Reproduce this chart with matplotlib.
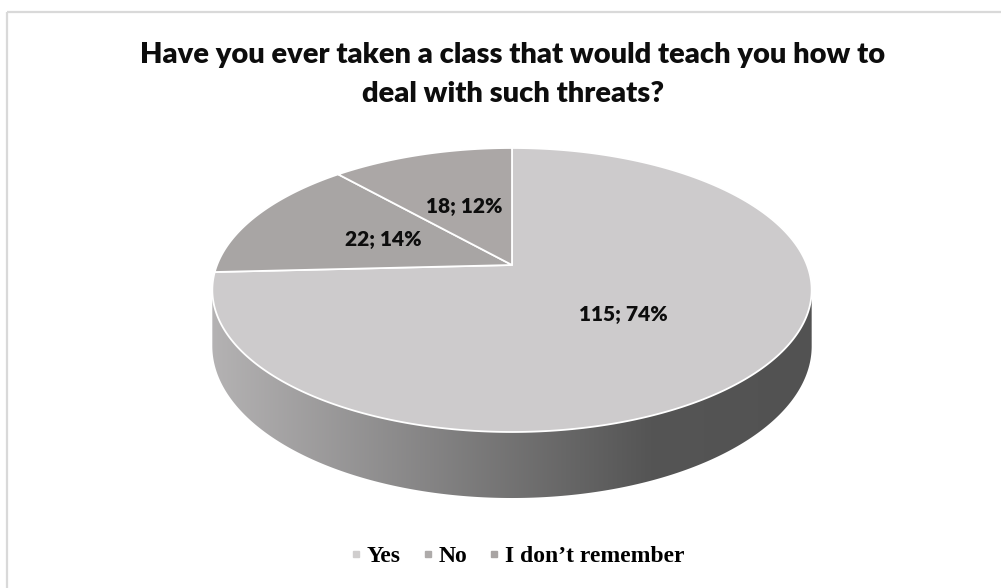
import numpy as np
import matplotlib
matplotlib.use("Agg")
import matplotlib.pyplot as plt
from matplotlib.patches import Polygon, Rectangle
from matplotlib.lines import Line2D
from matplotlib.colors import LinearSegmentedColormap

# data
categories = ["Yes", "No", "I don\u2019t remember"]
counts = [115, 22, 18]
title_lines = ["Have you ever taken a class that would teach you how to",
               "deal with such threats?"]

# style
top_colors = ["#CDCBCC", "#A8A5A4", "#ABA7A6"]
legend_colors = ["#D0CECE", "#AEABAA", "#A8A4A3"]
label_radius = 0.49

W, H = 1001, 588
fig = plt.figure(figsize=(W / 100, H / 100), dpi=100)
ax = fig.add_axes([0, 0, 1, 1])
ax.set_xlim(0, W)
ax.set_ylim(H, 0)
ax.axis("off")

# chart frame
ax.add_patch(Rectangle((7, 12), 1100, 700, fill=False, edgecolor="#D9D9D9", lw=1.6))

# perspective parameters of the tilted disc
cx, cy = 512, 265
A, B, k, D = 295.0, 137.6, 0.176, 54.4


def project(a, r=1.0, depth=0.0):
    x = r * np.cos(a)
    y = r * np.sin(a)
    w = 1 + k * y
    return cx + A * x / w, cy - B * y / w + depth / w


# front wall (visible side of the cylinder)
a_wall = np.linspace(-np.arcsin(k), -np.pi + np.arcsin(k), 400)
tx, ty = project(a_wall)
bx, by = project(a_wall[::-1], depth=D)
wall_xy = np.column_stack([np.concatenate([tx, bx]), np.concatenate([ty, by])])
wall = Polygon(wall_xy, closed=True, facecolor="none", edgecolor="none")
ax.add_patch(wall)
x0, x1 = wall_xy[:, 0].min(), wall_xy[:, 0].max()
split = (650 - x0) / (x1 - x0)
cmap = LinearSegmentedColormap.from_list(
    "wall", [(0.0, "#B4B2B3"), (split, "#555555"), (1.0, "#525252")])
grad = np.linspace(0, 1, 512)[None, :]
img = ax.imshow(grad, extent=(x0, x1, wall_xy[:, 1].max() + 2, wall_xy[:, 1].min() - 2),
                cmap=cmap, aspect="auto", interpolation="bilinear", zorder=1)
img.set_clip_path(wall)
ax.set_xlim(0, W)
ax.set_ylim(H, 0)

# top face slices, clockwise from 12 o'clock
total = sum(counts)
fractions = [c / total for c in counts]
start = 0.0
for i, f in enumerate(fractions):
    t = np.linspace(start, start + f * 360.0, max(int(f * 720), 4))
    a = np.radians(90.0 - t)
    px, py = project(a)
    xs = np.concatenate([[cx], px])
    ys = np.concatenate([[cy], py])
    ax.add_patch(Polygon(np.column_stack([xs, ys]), closed=True,
                         facecolor=top_colors[i], edgecolor="white",
                         lw=1.3, joinstyle="round", zorder=2))
    mid = np.radians(90.0 - (start + f * 180.0))
    lx, ly = project(mid, r=label_radius)
    pct = round(f * 100)
    ax.text(lx, ly, f"{counts[i]}; {pct}%", ha="center", va="center",
            fontsize=15, fontweight="heavy", family="Lato", color="#0D0D0D", zorder=3)
    start += f * 360.0

# title
ax.text(513, 63, title_lines[0], ha="center", va="baseline",
        fontsize=21, fontweight="heavy", family="Lato", color="#0D0D0D")
ax.text(513, 102, title_lines[1], ha="center", va="baseline",
        fontsize=21, fontweight="heavy", family="Lato", color="#0D0D0D")

# legend
handles = [Line2D([], [], marker="s", linestyle="none", markersize=4,
                  markerfacecolor=c, markeredgecolor=c) for c in legend_colors]
fig.legend(handles, categories, loc="center", bbox_to_anchor=(517 / W, 1 - 556 / H),
           ncol=3, frameon=False, handletextpad=0.2, columnspacing=0.9,
           handlelength=0.5,
           prop={"family": "Liberation Serif", "weight": "bold", "size": 17})

fig.savefig("out.png", dpi=100)
